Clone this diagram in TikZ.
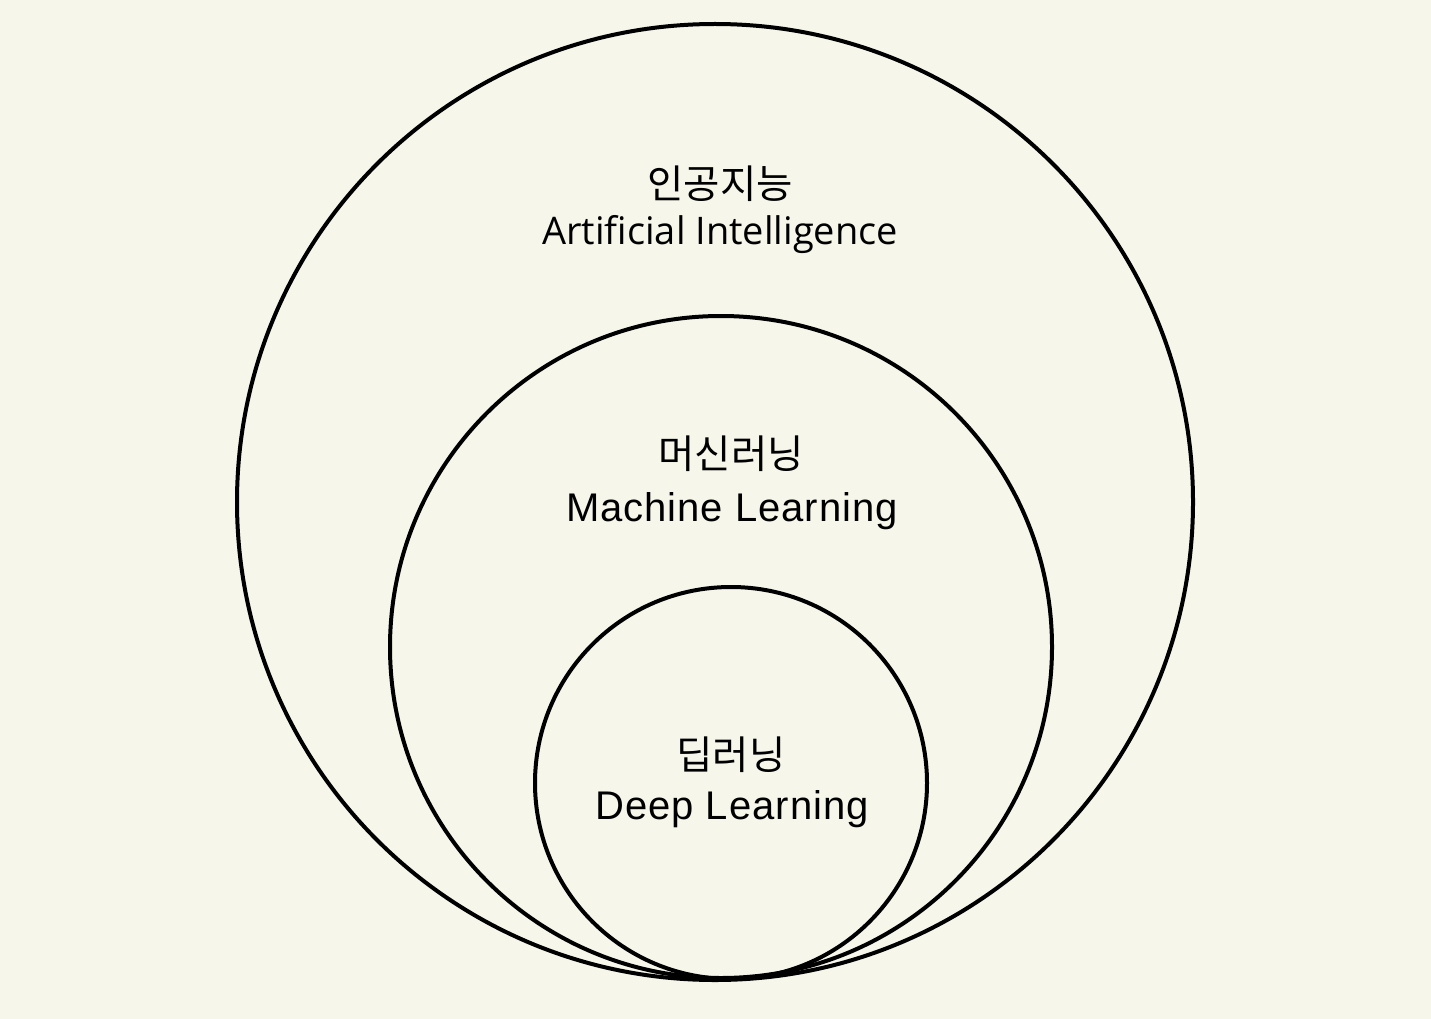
\documentclass[tikz,border=0pt]{standalone}
\usepackage{fontspec}
\newfontfamily\kofont{Noto Sans CJK KR}
\newfontfamily\opensans{Open Sans}
\newfontfamily\helv[LetterSpace=2.5]{Liberation Sans}
\definecolor{bg}{HTML}{F7F6EA}
\begin{document}
\begin{tikzpicture}[x=1pt,y=-1pt,
  ring/.style={draw=black,line width=4pt},
  ko/.style={anchor=base,inner sep=0pt,font=\kofont\fontsize{39.5}{42}\selectfont},
  enA/.style={anchor=base,inner sep=0pt,font=\opensans\fontsize{38}{40}\selectfont},
  enB/.style={anchor=base,inner sep=0pt,font=\helv\fontsize{40}{44}\selectfont}]
\fill[bg] (0,0) rectangle (1431,1019);
\useasboundingbox (0,0) rectangle (1431,1019);
\node[ring,circle,minimum size=956pt,inner sep=0pt] (ai) at (715,502) {};
\node[ring,circle,minimum size=662pt,inner sep=0pt] (ml) at (721,647) {};
\node[ring,circle,minimum size=392pt,inner sep=0pt] (dl) at (731,783) {};
\node[ko] (aiko) at (720,198) {인공지능};
\node[enA] (aien) at (720,244) {Artificial Intelligence};
\node[ko] (mlko) at (731,468) {머신러닝};
\node[enB] (mlen) at (732,521) {Machine Learning};
\node[ko] (dlko) at (731,769) {딥러닝};
\node[enB] (dlen) at (732,819) {Deep Learning};
\end{tikzpicture}
\end{document}
